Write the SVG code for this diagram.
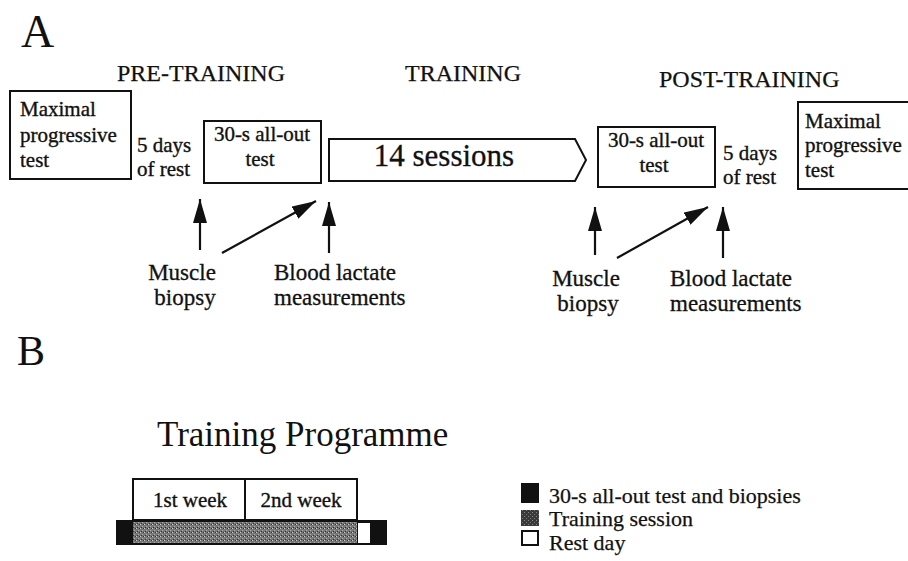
<svg xmlns="http://www.w3.org/2000/svg" width="908" height="561" viewBox="0 0 908 561">
<defs>
<style>
text{font-family:"Liberation Serif","Times New Roman",serif;fill:#111;}
.box{fill:#fff;stroke:#111;stroke-width:2;}
.t21{font-size:21px;stroke:#111;stroke-width:0.35;}
.t24{font-size:24px;stroke:#111;stroke-width:0.25;}
.lbl{font-size:23px;stroke:#111;stroke-width:0.3;}
.conn{stroke:#111;stroke-width:2.2;fill:none;}
.leg{font-size:22px;stroke:#111;stroke-width:0.25;}
</style>
<marker id="ah" markerUnits="userSpaceOnUse" markerWidth="26" markerHeight="16" refX="24" refY="7" orient="auto">
<path d="M0,0 L24,7 L0,14 Z" fill="#111"/>
</marker>
<pattern id="stip" width="4" height="4" patternUnits="userSpaceOnUse">
<rect width="4" height="4" fill="#777"/>
<rect x="0" y="0" width="1" height="1" fill="#ccc"/>
<rect x="2" y="2" width="1" height="1" fill="#aaa"/>
<rect x="3" y="0" width="1" height="1" fill="#333"/>
<rect x="1" y="3" width="1" height="1" fill="#333"/>
</pattern>
<pattern id="stipd" width="4" height="4" patternUnits="userSpaceOnUse">
<rect width="4" height="4" fill="#3a3a3a"/>
<rect x="0" y="0" width="1" height="1" fill="#888"/>
<rect x="2" y="2" width="1" height="1" fill="#777"/>
</pattern>
</defs>
<rect width="908" height="561" fill="#fff"/>

<!-- Panel A -->
<text x="21" y="47" style="font-size:46px">A</text>
<text x="117" y="81" class="t24">PRE-TRAINING</text>
<text x="405" y="81" class="t24">TRAINING</text>
<text x="659" y="87" class="t24">POST-TRAINING</text>

<g id="pre-maximal">
<rect class="box" x="10" y="91" width="121" height="88"/>
<text class="t21" x="20" y="116">Maximal</text>
<text class="t21" x="20" y="142">progressive</text>
<text class="t21" x="20" y="167">test</text>
</g>
<g id="pre-rest">
<text class="t21" x="137" y="152">5 days</text>
<text class="t21" x="137" y="176">of rest</text>
</g>
<g id="pre-allout">
<rect class="box" x="204" y="121" width="117" height="62"/>
<text class="t21" x="262" y="141" text-anchor="middle">30-s all-out</text>
<text class="t21" x="260" y="166" text-anchor="middle">test</text>
</g>
<g id="sessions">
<path class="box" d="M329,139 L575,139 L586,160 L575,181 L329,181 Z"/>
<text x="444" y="166" text-anchor="middle" style="font-size:31px" stroke="#111" stroke-width="0.3">14 sessions</text>
</g>
<g id="post-allout">
<rect class="box" x="598" y="127" width="117" height="60"/>
<text class="t21" x="656" y="147" text-anchor="middle">30-s all-out</text>
<text class="t21" x="654" y="172" text-anchor="middle">test</text>
</g>
<g id="post-rest">
<text class="t21" x="723" y="160">5 days</text>
<text class="t21" x="723" y="184">of rest</text>
</g>
<g id="post-maximal">
<rect class="box" x="798" y="102" width="118" height="87"/>
<text class="t21" x="805" y="128">Maximal</text>
<text class="t21" x="805" y="152">progressive</text>
<text class="t21" x="805" y="177">test</text>
</g>

<g id="pre-biopsy">
<text class="lbl" x="182" y="280" text-anchor="middle">Muscle</text>
<text class="lbl" x="185" y="305" text-anchor="middle">biopsy</text>
</g>
<g id="pre-lactate">
<text class="lbl" x="274" y="280">Blood lactate</text>
<text class="lbl" x="274" y="305">measurements</text>
</g>
<g id="post-biopsy">
<text class="lbl" x="586" y="286" text-anchor="middle">Muscle</text>
<text class="lbl" x="588" y="311" text-anchor="middle">biopsy</text>
</g>
<g id="post-lactate">
<text class="lbl" x="670" y="286">Blood lactate</text>
<text class="lbl" x="670" y="311">measurements</text>
</g>

<g id="connectors">
<line class="conn" x1="200" y1="250" x2="200" y2="199" marker-end="url(#ah)"/>
<line class="conn" x1="222" y1="253" x2="316" y2="201" marker-end="url(#ah)"/>
<line class="conn" x1="329" y1="253" x2="329" y2="202" marker-end="url(#ah)"/>
<line class="conn" x1="595" y1="255" x2="595" y2="207" marker-end="url(#ah)"/>
<line class="conn" x1="617" y1="258" x2="708" y2="207" marker-end="url(#ah)"/>
<line class="conn" x1="723" y1="258" x2="723" y2="207" marker-end="url(#ah)"/>
</g>

<!-- Panel B -->
<text x="17" y="365" style="font-size:42px">B</text>
<text x="157" y="446" style="font-size:35px">Training Programme</text>

<g id="programme">
<rect class="box" x="133" y="479" width="224" height="41"/>
<line x1="245" y1="479" x2="245" y2="520" stroke="#111" stroke-width="2"/>
<text class="t21" x="190" y="507" text-anchor="middle">1st week</text>
<text class="t21" x="301" y="507" text-anchor="middle">2nd week</text>
<rect x="116" y="520" width="271" height="25" fill="#111"/>
<rect x="133" y="522" width="224" height="21" fill="url(#stip)"/>
<rect x="358" y="523" width="12" height="20" fill="#fff"/>
</g>

<g id="legend">
<rect x="521" y="483" width="18" height="20" fill="#111"/>
<text class="leg" x="549" y="503">30-s all-out test and biopsies</text>
<rect x="521" y="510" width="18" height="16" fill="url(#stipd)"/>
<text class="leg" x="549" y="526">Training session</text>
<rect x="522" y="531" width="16" height="14" fill="#fff" stroke="#111" stroke-width="2"/>
<text class="leg" x="549" y="550">Rest day</text>
</g>
</svg>
